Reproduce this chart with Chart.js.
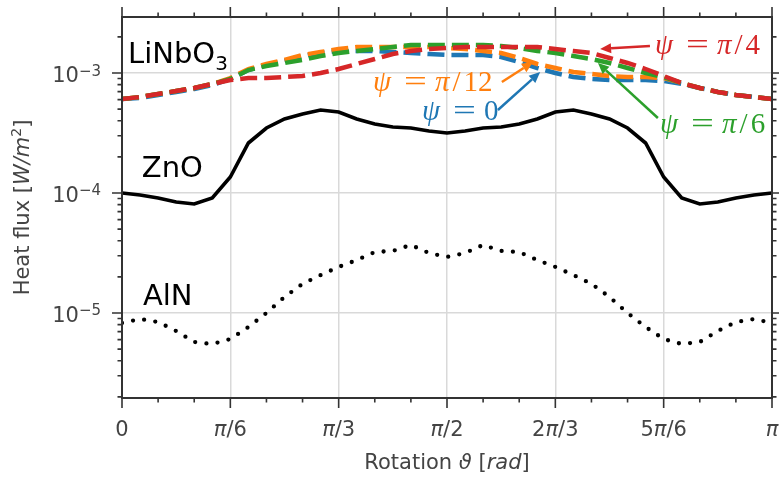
<!DOCTYPE html>
<html>
<head>
<meta charset="utf-8">
<script src="https://cdn.jsdelivr.net/npm/chart.js@4.4.1/dist/chart.umd.min.js"></script>
<style>
  html, body { margin: 0; padding: 0; background: #fff; }
  #wrap { width: 779px; height: 477px; }
</style>
</head>
<body>
<div id="wrap"><canvas id="fluxChart" width="779" height="477"></canvas></div>
<script>
// rotation angle, degrees (plotted as 0..pi)
const angleDeg = [0,5,10,15,20,25,30,35,40,45,50,55,60,65,70,75,80,85,90,95,100,105,110,115,120,125,130,135,140,145,150,155,160,165,170,175,180];
const tickDeg = [0,30,60,90,120,150,180];
const tickLabels = ['0','π/6','π/3','π/2','2π/3','5π/6','π'];
const decadeExp = [-5,-4,-3];

// LiNbO3, one curve per psi
const linbo3Psi0 = [6.07e-4,6.19e-4,6.56e-4,6.95e-4,7.36e-4,7.94e-4,8.91e-4,1.059e-3,1.166e-3,1.259e-3,1.386e-3,1.468e-3,1.526e-3,1.526e-3,1.526e-3,1.496e-3,1.468e-3,1.440e-3,1.413e-3,1.413e-3,1.413e-3,1.359e-3,1.235e-3,1.101e-3,1.000e-3,9.26e-4,8.91e-4,8.74e-4,8.74e-4,8.74e-4,8.58e-4,8.10e-4,7.50e-4,6.95e-4,6.56e-4,6.31e-4,6.07e-4];
const linbo3PsiPi12 = [6.07e-4,6.31e-4,6.68e-4,7.08e-4,7.50e-4,8.10e-4,9.08e-4,1.080e-3,1.189e-3,1.284e-3,1.413e-3,1.496e-3,1.585e-3,1.647e-3,1.647e-3,1.647e-3,1.647e-3,1.647e-3,1.616e-3,1.585e-3,1.526e-3,1.468e-3,1.334e-3,1.189e-3,1.101e-3,1.019e-3,9.81e-4,9.44e-4,9.26e-4,9.26e-4,9.08e-4,8.25e-4,7.50e-4,6.95e-4,6.56e-4,6.31e-4,6.07e-4];
const linbo3PsiPi6 = [6.07e-4,6.31e-4,6.68e-4,7.08e-4,7.50e-4,8.10e-4,8.91e-4,1.059e-3,1.144e-3,1.212e-3,1.284e-3,1.386e-3,1.468e-3,1.526e-3,1.585e-3,1.647e-3,1.711e-3,1.711e-3,1.711e-3,1.711e-3,1.711e-3,1.679e-3,1.616e-3,1.526e-3,1.468e-3,1.386e-3,1.308e-3,1.212e-3,1.101e-3,1.000e-3,9.26e-4,8.25e-4,7.50e-4,6.95e-4,6.56e-4,6.31e-4,6.07e-4];
const linbo3PsiPi4 = [6.07e-4,6.31e-4,6.68e-4,7.08e-4,7.50e-4,8.10e-4,8.74e-4,9.08e-4,9.08e-4,9.26e-4,9.44e-4,1.000e-3,1.080e-3,1.189e-3,1.308e-3,1.440e-3,1.526e-3,1.585e-3,1.616e-3,1.647e-3,1.647e-3,1.647e-3,1.647e-3,1.647e-3,1.585e-3,1.526e-3,1.468e-3,1.334e-3,1.212e-3,1.080e-3,9.44e-4,8.25e-4,7.50e-4,6.95e-4,6.56e-4,6.31e-4,6.07e-4];
const znoFlux = [1.00e-4,9.62e-5,9.09e-5,8.41e-5,8.10e-5,9.09e-5,1.36e-4,2.61e-4,3.48e-4,4.14e-4,4.55e-4,4.92e-4,4.73e-4,4.14e-4,3.76e-4,3.55e-4,3.48e-4,3.29e-4,3.16e-4,3.29e-4,3.48e-4,3.55e-4,3.76e-4,4.14e-4,4.73e-4,4.92e-4,4.55e-4,4.14e-4,3.48e-4,2.61e-4,1.36e-4,9.09e-5,8.10e-5,8.41e-5,9.09e-5,9.62e-5,1.00e-4];
const alnFlux = [8.25e-6,8.91e-6,8.41e-6,7.08e-6,5.73e-6,5.51e-6,6.07e-6,7.64e-6,1.00e-5,1.36e-5,1.75e-5,2.07e-5,2.42e-5,2.76e-5,3.22e-5,3.29e-5,3.69e-5,3.16e-5,2.93e-5,3.16e-5,3.69e-5,3.29e-5,3.22e-5,2.76e-5,2.42e-5,2.07e-5,1.75e-5,1.36e-5,1.00e-5,7.64e-6,6.07e-6,5.51e-6,5.73e-6,7.08e-6,8.41e-6,8.91e-6,8.25e-6];

const BLUE = '#1f77b4', ORANGE = '#ff7f0e', GREEN = '#2ca02c', RED = '#d62728';
const SANS = '"DejaVu Sans", sans-serif';
const SERIF = '"Liberation Serif", serif';

const pts = vals => angleDeg.map((a, i) => ({ x: a, y: vals[i] }));

const dashed = (label, vals, color, order) => ({
  label, data: pts(vals), borderColor: color, borderWidth: 4.5,
  borderDash: [17, 7], pointRadius: 0, tension: 0, order
});

// annotation text / arrows, in data coordinates (deg, flux)
const psiNotes = [
  { parts: ['ψ', '=', 'π/4'],  color: RED,    at: [147.6, 1.44e-3], tail: [146.2, 1.68e-3], tip: [132.4, 1.585e-3] },
  { parts: ['ψ', '=', 'π/12'], color: ORANGE, at: [69.5, 7.08e-4],  tail: [105.2, 8.41e-4], tip: [113.8, 1.235e-3] },
  { parts: ['ψ', '=', '0'],    color: BLUE,   at: [83.1, 4.06e-4],  tail: [104.1, 4.92e-4], tip: [115.8, 1.019e-3] },
  { parts: ['ψ', '=', 'π/6'],  color: GREEN,  at: [149.0, 3.16e-4], tail: [148.4, 4.22e-4], tip: [131.8, 1.212e-3] }
];

// draw a row of [text, font] pieces, returns end x
function pieces(ctx, list, x, y) {
  for (const [t, f, dy] of list) {
    ctx.font = f;
    ctx.fillText(t, x, y + (dy || 0));
    x += ctx.measureText(t).width;
  }
  return x;
}
function piecesWidth(ctx, list) {
  let w = 0;
  for (const [t, f] of list) { ctx.font = f; w += ctx.measureText(t).width; }
  return w;
}

function arrow(ctx, x1, y1, x2, y2, color) {
  const ang = Math.atan2(y2 - y1, x2 - x1);
  const hl = 11, hw = 5;
  const bx = x2 - hl * Math.cos(ang), by = y2 - hl * Math.sin(ang);
  ctx.strokeStyle = color; ctx.fillStyle = color; ctx.lineWidth = 2.5;
  ctx.beginPath(); ctx.moveTo(x1, y1); ctx.lineTo(bx, by); ctx.stroke();
  ctx.beginPath();
  ctx.moveTo(x2, y2);
  ctx.lineTo(bx + hw * Math.sin(ang), by - hw * Math.cos(ang));
  ctx.lineTo(bx - hw * Math.sin(ang), by + hw * Math.cos(ang));
  ctx.closePath(); ctx.fill();
}

function mathLabel(ctx, x, y, parts, color) {
  ctx.fillStyle = color;
  ctx.textAlign = 'left';
  ctx.textBaseline = 'alphabetic';
  ctx.font = 'italic 29px ' + SERIF;
  ctx.fillText(parts[0], x, y);
  // wide '=' like in TeX
  ctx.save();
  ctx.font = '29px ' + SERIF;
  ctx.translate(x + 31, y);
  ctx.scale(1.4, 1);
  ctx.fillText(parts[1], 0, 0);
  ctx.restore();
  let cx = x + 62;
  for (const ch of parts[2]) {
    ctx.font = (ch === 'π' ? 'italic ' : '') + '29px ' + SERIF;
    ctx.fillText(ch, cx, y);
    cx += ctx.measureText(ch).width + (ch === 'π' || ch === '/' ? 3 : 0);
  }
}

const decor = {
  id: 'decor',
  afterDatasetsDraw(chart) {
    const { ctx, chartArea: a, scales: { x, y } } = chart;
    ctx.save();

    // frame
    ctx.strokeStyle = '#333';
    ctx.lineWidth = 2;
    ctx.strokeRect(a.left, a.top, a.right - a.left, a.bottom - a.top);

    // ticks on all four sides, outward
    ctx.lineWidth = 1.6;
    ctx.beginPath();
    for (let d = 0; d <= 180; d += 10) {
      const px = x.getPixelForValue(d);
      const len = d % 30 === 0 ? 10 : 4.5;
      ctx.moveTo(px, a.bottom); ctx.lineTo(px, a.bottom + len);
      ctx.moveTo(px, a.top); ctx.lineTo(px, a.top - len);
    }
    for (let e = -6; e <= -3; e++) {
      for (let m = 1; m <= 9; m++) {
        const v = m * Math.pow(10, e);
        if (v < y.min || v > y.max) continue;
        const py = y.getPixelForValue(v);
        const len = m === 1 ? 10 : 4.5;
        ctx.moveTo(a.left, py); ctx.lineTo(a.left - len, py);
        ctx.moveTo(a.right, py); ctx.lineTo(a.right + len, py);
      }
    }
    ctx.stroke();

    // x tick labels
    ctx.fillStyle = '#444';
    ctx.textBaseline = 'alphabetic';
    ctx.textAlign = 'left';
    tickDeg.forEach((d, i) => {
      const list = [];
      for (const ch of tickLabels[i]) list.push([ch, (ch === 'π' ? 'italic ' : '') + '21px ' + SANS]);
      const w = piecesWidth(ctx, list);
      pieces(ctx, list, x.getPixelForValue(d) - w / 2, a.bottom + 38);
    });

    // y tick labels 10^n
    decadeExp.forEach(e => {
      const py = y.getPixelForValue(Math.pow(10, e));
      const list = [['10', '21px ' + SANS, 0], ['\u2212' + Math.abs(e), '15px ' + SANS, -6.5]];
      const w = piecesWidth(ctx, list);
      pieces(ctx, list, a.left - 21 - w, py + 9);
    });

    // axis titles
    const xt = [['Rotation ', '21px ' + SANS], ['ϑ', 'italic 21px ' + SANS], [' [', '21px ' + SANS],
                ['rad', 'italic 21px ' + SANS], [']', '21px ' + SANS]];
    pieces(ctx, xt, (a.left + a.right) / 2 - piecesWidth(ctx, xt) / 2, a.bottom + 71);

    const yt = [['Heat flux [', '21px ' + SANS], ['W/m', 'italic 21px ' + SANS], ['2', '14px ' + SANS, -8],
                [']', '21px ' + SANS]];
    ctx.save();
    ctx.translate(29, (a.top + a.bottom) / 2);
    ctx.rotate(-Math.PI / 2);
    pieces(ctx, yt, -piecesWidth(ctx, yt) / 2, 0);
    ctx.restore();

    // material names
    ctx.fillStyle = '#000';
    const lx = x.getPixelForValue(1.66);
    const ly = y.getPixelForValue(1.21e-3);
    const end = pieces(ctx, [['LiNbO', '29px ' + SANS]], lx, ly);
    pieces(ctx, [['3', '20px ' + SANS]], end, ly + 7);
    ctx.font = '29px ' + SANS;
    ctx.fillText('ZnO', x.getPixelForValue(5.5), y.getPixelForValue(1.36e-4));
    ctx.fillText('AlN', x.getPixelForValue(5.8), y.getPixelForValue(1.17e-5));

    // psi labels with arrows
    psiNotes.forEach(n => {
      arrow(ctx, x.getPixelForValue(n.tail[0]), y.getPixelForValue(n.tail[1]),
            x.getPixelForValue(n.tip[0]), y.getPixelForValue(n.tip[1]), n.color);
      mathLabel(ctx, x.getPixelForValue(n.at[0]), y.getPixelForValue(n.at[1]), n.parts, n.color);
    });

    ctx.restore();
  }
};

const ctx = document.getElementById('fluxChart').getContext('2d');
const fluxChart = new Chart(ctx, {
  type: 'line',
  data: {
    datasets: [
      dashed('psi = pi/4', linbo3PsiPi4, RED, 1),
      dashed('psi = pi/6', linbo3PsiPi6, GREEN, 2),
      dashed('psi = pi/12', linbo3PsiPi12, ORANGE, 3),
      dashed('psi = 0', linbo3Psi0, BLUE, 4),
      { label: 'ZnO', data: pts(znoFlux), borderColor: '#000', borderWidth: 3.6,
        pointRadius: 0, tension: 0, order: 5 },
      { label: 'AlN', data: pts(alnFlux), borderColor: '#000', borderWidth: 4.3,
        borderDash: [0, 11.3], borderCapStyle: 'round', pointRadius: 0, tension: 0, order: 6 }
    ]
  },
  options: {
    responsive: false,
    devicePixelRatio: 1,
    animation: false,
    layout: { padding: { left: 122, right: 7, top: 17, bottom: 79 } },
    plugins: { legend: { display: false }, tooltip: { enabled: false } },
    scales: {
      x: {
        type: 'linear', min: 0, max: 180,
        ticks: { display: false, stepSize: 30 },
        grid: { color: '#d9d9d9', lineWidth: 1.5, drawTicks: false },
        border: { display: false },
        afterFit: s => { s.height = 0; }
      },
      y: {
        type: 'logarithmic', min: 1.957e-6, max: 2.929e-3,
        ticks: { display: false },
        grid: {
          color: c => {
            const l = Math.log10(c.tick.value);
            return Math.abs(l - Math.round(l)) < 1e-6 ? '#d9d9d9' : 'rgba(0,0,0,0)';
          },
          lineWidth: 1.5, drawTicks: false
        },
        border: { display: false },
        afterFit: s => { s.width = 0; }
      }
    }
  },
  plugins: [decor]
});
</script>
</body>
</html>
